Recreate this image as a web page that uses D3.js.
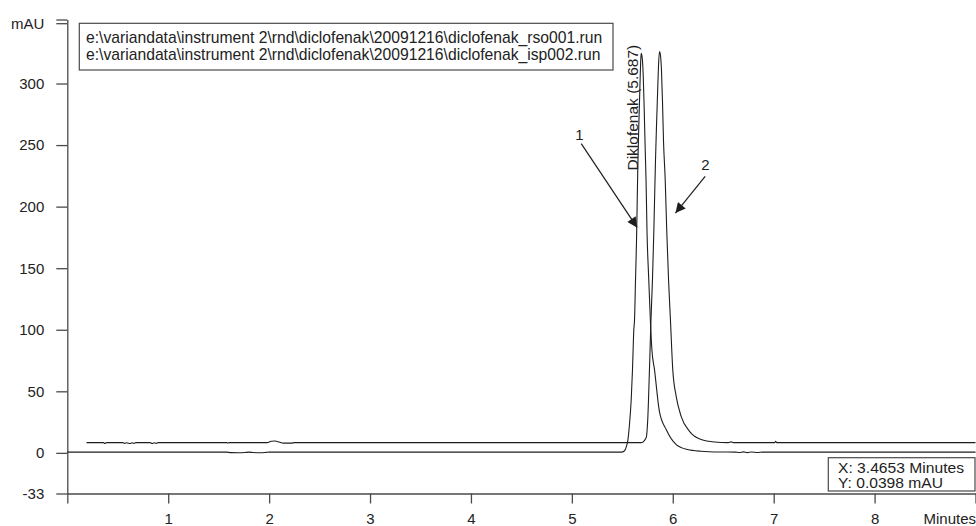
<!DOCTYPE html>
<meta charset="utf-8">
<style>
body { margin: 0; background: #fff; }
svg text { font-family: "Liberation Sans", Arial, sans-serif; fill: #222; }
.axis path, .axis line { fill: none; stroke: #4a4a4a; stroke-width: 1.3; }
.axis text { font-size: 15px; }
.trace { fill: none; stroke: #1e1e1e; stroke-width: 1.1; }
.box { fill: #fff; stroke: #4a4a4a; stroke-width: 1.2; }
</style>
<body>
<script src="https://cdn.jsdelivr.net/npm/d3@7"></script>
<script>

// run 1 (rso001) - [minutes, mAU]
var trace1 = [
  [0.0,0.6],[1.58,0.6],[1.62,0.2],[1.70,0.1],[1.76,0.3],[1.80,0.6],[1.84,0.3],[1.90,0.1],[1.97,0.4],[2.0,0.6],
  [5.49,0.6],[5.52,1.5],[5.54,5.1],[5.556,10.8],[5.571,23],[5.588,43],[5.601,68],[5.614,100],[5.621,108],
  [5.631,141],[5.641,173],[5.648,206],[5.655,238],[5.665,270],[5.675,299],[5.682,318],[5.687,324.5],
  [5.697,321],[5.707,307],[5.717,279],[5.727,246],[5.735,222],[5.745,179],[5.762,141],[5.778,108],
  [5.793,84],[5.819,67.6],[5.868,33.5],[5.935,18.9],[6.034,6.7],[6.146,2.7],[6.281,1.3],[6.46,0.7],
  [6.62,0.6],[6.66,0.3],[6.70,0.8],[6.74,0.2],[6.78,0.7],[6.84,0.3],[6.89,0.6],[9.0,0.6]
];

// run 2 (isp002)
var trace2 = [
  [0.19,8.3],[0.36,8.3],[0.37,7.6],[0.39,8.3],[0.55,8.3],[0.57,7.7],[0.59,8.2],[0.62,7.6],[0.64,8.2],
  [0.66,7.7],[0.68,8.3],[0.82,8.3],[0.84,7.6],[0.86,8.2],[0.88,7.7],[0.90,8.3],[1.58,8.3],[1.59,7.8],
  [1.60,8.3],[1.98,8.3],[2.02,9.4],[2.06,9.6],[2.10,8.8],[2.14,7.9],[2.22,7.9],[2.25,8.3],
  [5.69,8.3],[5.737,12.4],[5.752,27],[5.769,67.6],[5.784,108],[5.799,141],[5.812,179],[5.822,214],
  [5.829,238],[5.839,266],[5.849,291],[5.858,313],[5.868,326],[5.878,323],[5.888,311],[5.898,286],
  [5.908,254],[5.925,222],[5.941,179],[5.958,141],[5.977,108],[6.0,67.6],[6.034,45.9],[6.083,29.7],
  [6.166,17.5],[6.281,10.8],[6.413,8.8],[6.55,8.3],[6.58,8.9],[6.60,8.3],[7.01,8.3],[7.02,9.3],
  [7.03,8.3],[9.0,8.3]
];

var yTicks = [-33, 0, 50, 100, 150, 200, 250, 300, 349, 352];
var yLabels = ["-33", "0", "50", "100", "150", "200", "250", "300", "mAU", ""];
var xTicks = [0, 1, 2, 3, 4, 5, 6, 7, 8, 9];
var xLabels = ["", "1", "2", "3", "4", "5", "6", "7", "8", "Minutes"];

var files = [
  "e:\\variandata\\instrument 2\\rnd\\diclofenak\\20091216\\diclofenak_rso001.run",
  "e:\\variandata\\instrument 2\\rnd\\diclofenak\\20091216\\diclofenak_isp002.run"
];
var peakLabel = {t: 5.645, v: 331.5, text: "Diklofenak (5.687)"};
// arrows: label, start, tip  (minutes / mAU)
var arrows = [
  {label: "1", lt: 5.076, lv: 254.3, t0: 5.093, v0: 251.2, t1: 5.646, v1: 183.1},
  {label: "2", lt: 6.324, lv: 229.4, t0: 6.321, v0: 224.5, t1: 6.027, v1: 194.8}
];
var cursor = ["X: 3.4653 Minutes", "Y: 0.0398 mAU"];
var cursorWidths = [126, 105];

var width = 976, height = 526;

var x = d3.scaleLinear().domain([0, 9]).range([67.3, 975.5]);
var y = d3.scaleLinear().domain([-33, 352]).range([493.5, 19.5]);

var svg = d3.select("body").append("svg")
    .attr("width", width)
    .attr("height", height);

svg.append("defs").append("marker")
    .attr("id", "head")
    .attr("viewBox", "0 0 10 10")
    .attr("refX", 10).attr("refY", 5)
    .attr("markerWidth", 12).attr("markerHeight", 10)
    .attr("markerUnits", "userSpaceOnUse")
    .attr("orient", "auto")
  .append("path")
    .attr("d", "M0,0L10,5L0,10Z")
    .attr("fill", "#1e1e1e");

// axes
svg.append("g")
    .attr("class", "axis")
    .attr("transform", "translate(" + x(0) + ",0)")
    .call(d3.axisLeft(y).tickValues(yTicks).tickSize(11).tickPadding(12).tickSizeOuter(0)
      .tickFormat(function(d, i) { return yLabels[i]; }));

svg.append("g")
    .attr("class", "axis xaxis")
    .attr("transform", "translate(0," + y(-33) + ")")
    .call(d3.axisBottom(x).tickValues(xTicks).tickSize(10).tickPadding(10).tickSizeOuter(0)
      .tickFormat(function(d, i) { return xLabels[i]; }));

svg.selectAll(".xaxis .tick text")
    .filter(function(d) { return d === 9; })
    .attr("text-anchor", "end")
    .attr("x", 0);

// traces
var line = d3.line()
    .x(function(d) { return x(d[0]); })
    .y(function(d) { return y(d[1]); })
    .curve(d3.curveMonotoneX);

svg.append("path").datum(trace1).attr("class", "trace").attr("d", line);
svg.append("path").datum(trace2).attr("class", "trace").attr("d", line);

// file legend
svg.append("rect").attr("class", "box")
    .attr("x", 79.3).attr("y", 23.3).attr("width", 533.7).attr("height", 46.7);

svg.selectAll(".file")
    .data(files)
  .enter().append("text")
    .attr("class", "file")
    .attr("x", 86)
    .attr("y", function(d, i) { return 43 + i * 17; })
    .style("font-size", "15.7px")
    .text(function(d) { return d; });

// peak label
svg.append("text")
    .attr("transform", "translate(" + (x(peakLabel.t) + 1) + "," + y(peakLabel.v) + ") rotate(-90)")
    .attr("text-anchor", "end")
    .style("font-size", "15.5px")
    .text(peakLabel.text);

// arrows
arrows.forEach(function(a) {
  svg.append("line")
      .attr("x1", x(a.t0)).attr("y1", y(a.v0))
      .attr("x2", x(a.t1)).attr("y2", y(a.v1))
      .attr("stroke", "#1e1e1e")
      .attr("stroke-width", 1.2)
      .attr("marker-end", "url(#head)");
  svg.append("text")
      .attr("x", x(a.lt)).attr("y", y(a.lv))
      .attr("text-anchor", "middle")
      .style("font-size", "15px")
      .text(a.label);
});

// cursor readout
svg.append("rect").attr("class", "box")
    .attr("x", 828.3).attr("y", 457.7).attr("width", 146.7).attr("height", 33.3);

svg.selectAll(".cursor")
    .data(cursor)
  .enter().append("text")
    .attr("class", "cursor")
    .attr("x", 838)
    .attr("y", function(d, i) { return 472.5 + i * 15; })
    .attr("textLength", function(d, i) { return cursorWidths[i]; })
    .attr("lengthAdjust", "spacingAndGlyphs")
    .style("font-size", "14px")
    .text(function(d) { return d; });

</script>
</body>
